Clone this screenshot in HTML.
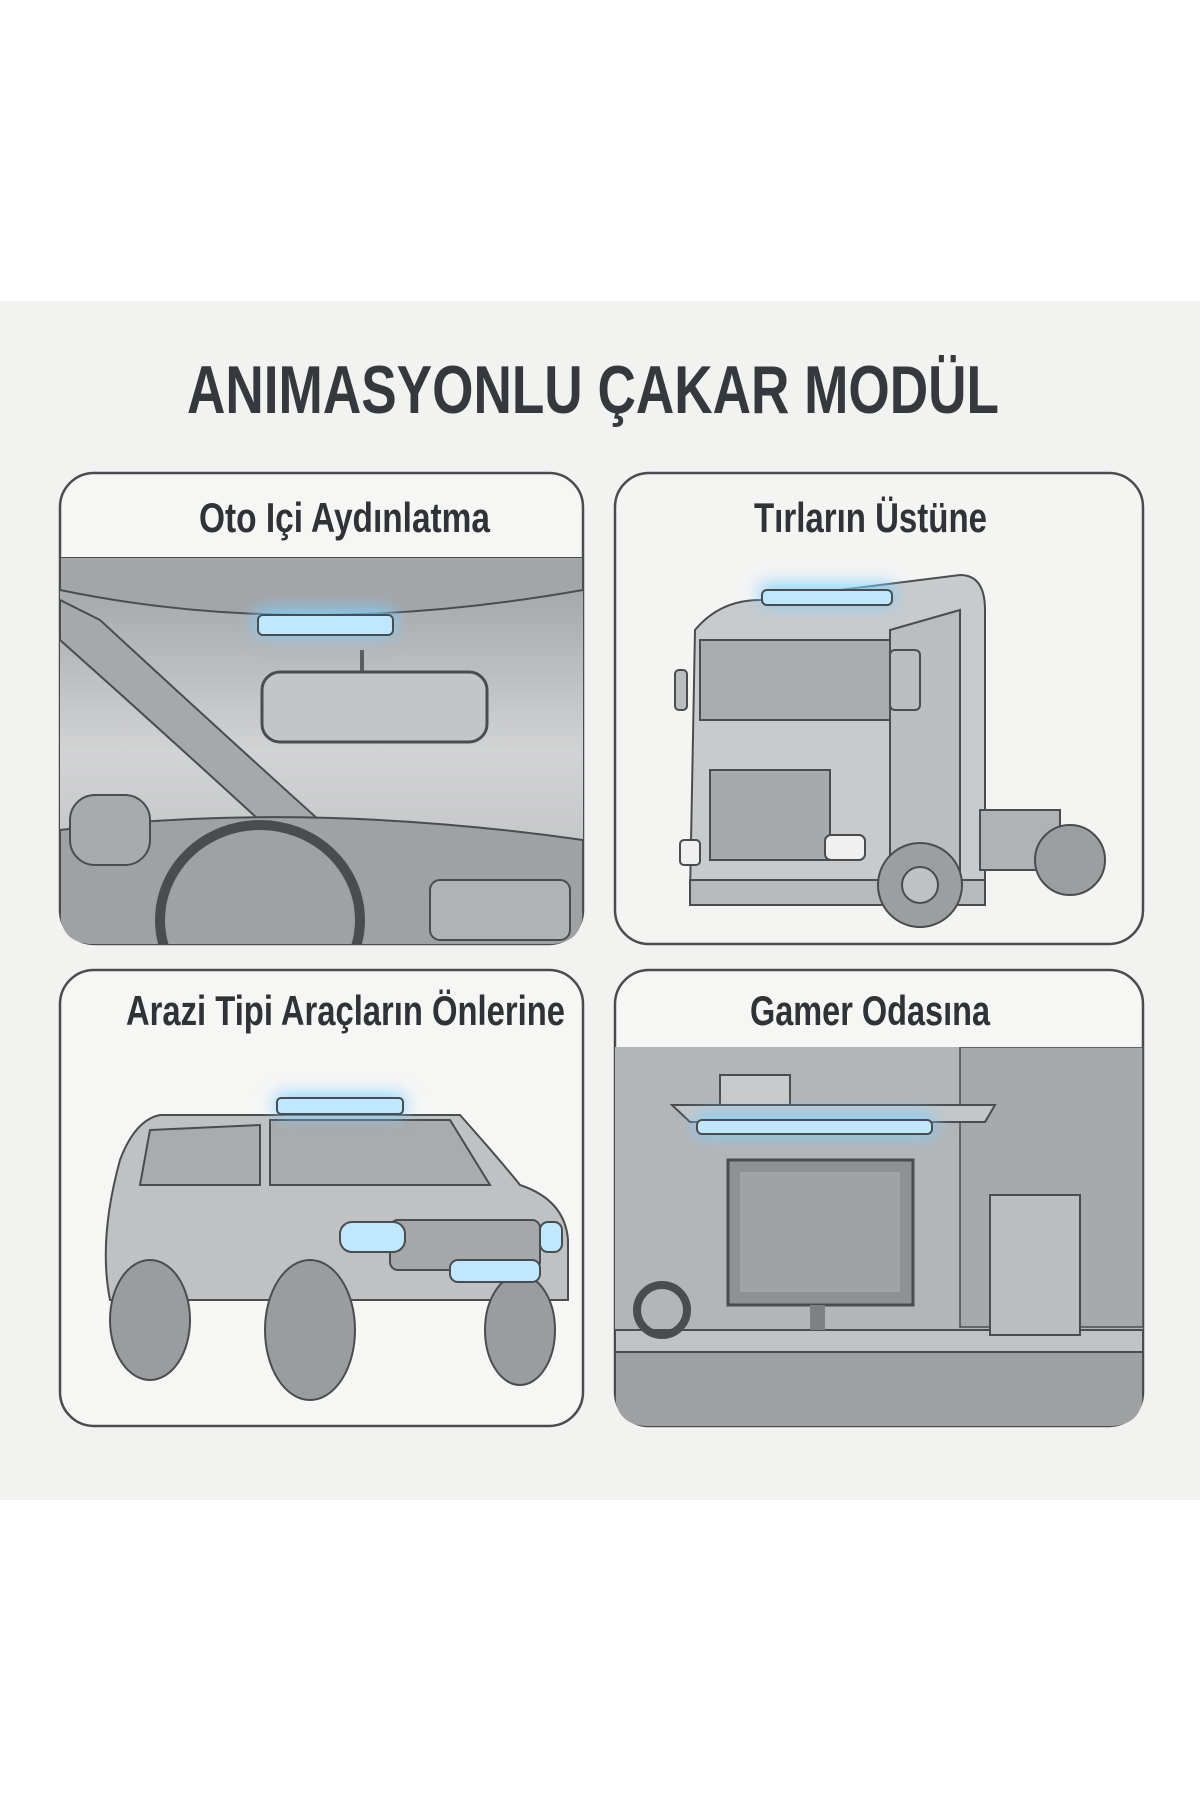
<!DOCTYPE html>
<html><head><meta charset="utf-8"><style>
html,body{margin:0;padding:0;background:#fff;}
body{width:1200px;height:1800px;position:relative;overflow:hidden;font-family:"Liberation Sans",sans-serif;}
svg{position:absolute;left:0;top:0}
</style></head><body>
<svg width="1200" height="1800" viewBox="0 0 1200 1800">
<defs>
<filter id="g" x="-50%" y="-200%" width="200%" height="500%"><feGaussianBlur stdDeviation="9"/></filter>
<linearGradient id="ws" x1="0" y1="0" x2="0" y2="1"><stop offset="0" stop-color="#9d9fa1"/><stop offset="0.5" stop-color="#d2d3d4"/><stop offset="1" stop-color="#b9babb"/></linearGradient>
<clipPath id="c1"><path d="M60,557 H583 V910 Q583,944 549,944 H94 Q60,944 60,910 Z"/></clipPath>
<clipPath id="c4"><path d="M615,1047 H1143 V1392 Q1143,1426 1109,1426 H649 Q615,1426 615,1392 Z"/></clipPath>
</defs>
<rect x="0" y="301" width="1200" height="1199" fill="#f2f2f0"/>
<text x="187" y="413" textLength="812" lengthAdjust="spacingAndGlyphs" font-size="68" font-weight="bold" fill="#35383c">ANIMASYONLU ÇAKAR MODÜL</text>

<!-- panels -->
<rect x="60" y="473" width="523" height="471" rx="34" fill="#f6f6f5" stroke="#4a4d50" stroke-width="2.5"/>
<rect x="615" y="473" width="528" height="471" rx="34" fill="#f4f4f3" stroke="#4a4d50" stroke-width="2.5"/>
<rect x="60" y="970" width="523" height="456" rx="34" fill="#f6f6f5" stroke="#4a4d50" stroke-width="2.5"/>
<rect x="615" y="970" width="528" height="456" rx="34" fill="#f6f6f5" stroke="#4a4d50" stroke-width="2.5"/>

<g font-size="42" font-weight="bold" fill="#2f3236" lengthAdjust="spacingAndGlyphs">
<text x="199" y="532" textLength="291" lengthAdjust="spacingAndGlyphs">Oto Içi Aydınlatma</text>
<text x="754" y="532" textLength="233" lengthAdjust="spacingAndGlyphs">Tırların Üstüne</text>
<text x="126" y="1025" textLength="439" lengthAdjust="spacingAndGlyphs">Arazi Tipi Araçların Önlerine</text>
<text x="750" y="1025" textLength="240" lengthAdjust="spacingAndGlyphs">Gamer Odasına</text>
</g>

<!-- TL interior -->
<g clip-path="url(#c1)">
<rect x="60" y="557" width="523" height="390" fill="url(#ws)"/>
<path d="M60,590 Q300,640 583,590 V557 H60Z" fill="#a3a5a7" stroke="#4a4d50" stroke-width="2"/>
<path d="M60,640 Q150,720 270,830 L330,830 Q230,740 100,620 L60,600Z" fill="#a6a8aa" stroke="#4a4d50" stroke-width="2"/>
<path d="M60,830 Q300,800 583,840 V950 H60Z" fill="#9fa1a3" stroke="#4a4d50" stroke-width="2"/>
<rect x="70" y="795" width="80" height="70" rx="25" fill="#a8aaac" stroke="#4a4d50" stroke-width="2"/>
<ellipse cx="260" cy="920" rx="100" ry="95" fill="none" stroke="#4a4d50" stroke-width="10"/>
<rect x="430" y="880" width="140" height="60" rx="10" fill="#b0b2b4" stroke="#4a4d50" stroke-width="2"/>
<rect x="360" y="650" width="4" height="25" fill="#5a5d60"/>
<rect x="262" y="672" width="225" height="70" rx="18" fill="#c3c5c7" stroke="#4a4d50" stroke-width="3"/>
<rect x="255" y="610" width="140" height="25" rx="6" fill="#7fd0ff" filter="url(#g)"/>
<rect x="258" y="615" width="135" height="20" rx="5" fill="#bfe8ff" stroke="#4a4d50" stroke-width="2"/>
</g>

<!-- TR truck -->
<g stroke="#4a4d50" stroke-width="2">
<path d="M695,630 Q720,600 760,600 L960,575 Q985,575 985,610 V895 H690Z" fill="#c9cacb"/>
<path d="M700,640 H890 V720 H700Z" fill="#a9abad"/>
<path d="M890,630 L960,610 V880 L890,880Z" fill="#bcbdbe"/>
<rect x="710" y="770" width="120" height="90" fill="#a7a9ab"/>
<rect x="825" y="835" width="40" height="25" rx="6" fill="#f0f0f0"/>
<rect x="680" y="840" width="20" height="25" rx="4" fill="#f0f0f0"/>
<path d="M690,880 H985 V905 H690Z" fill="#b8b9ba"/>
<circle cx="920" cy="885" r="42" fill="#9c9ea0"/><circle cx="920" cy="885" r="18" fill="#c0c1c2"/>
<rect x="980" y="810" width="80" height="60" fill="#b0b2b4"/>
<circle cx="1070" cy="860" r="35" fill="#9c9ea0"/>
<rect x="890" y="650" width="30" height="60" rx="5" fill="#bcbdbe"/>
<rect x="675" y="670" width="12" height="40" rx="4" fill="#bcbdbe"/>
</g>
<rect x="760" y="585" width="135" height="20" rx="6" fill="#7fd0ff" filter="url(#g)"/>
<rect x="762" y="590" width="130" height="15" rx="5" fill="#bfe8ff" stroke="#4a4d50" stroke-width="2"/>

<!-- BL SUV -->
<g stroke="#4a4d50" stroke-width="2">
<path d="M120,1160 Q135,1120 160,1115 L460,1115 Q500,1160 520,1185 Q565,1200 568,1240 V1300 H110 Q98,1240 120,1160Z" fill="#c0c1c2"/>
<path d="M150,1130 L260,1125 V1185 H140Z" fill="#a9abad"/>
<path d="M270,1120 H450 L490,1185 H270Z" fill="#a9abad"/>
<rect x="390" y="1220" width="150" height="50" rx="8" fill="#a5a7a9"/>
<ellipse cx="150" cy="1320" rx="40" ry="60" fill="#9a9c9e"/>
<ellipse cx="310" cy="1330" rx="45" ry="70" fill="#9a9c9e"/>
<ellipse cx="520" cy="1330" rx="35" ry="55" fill="#9a9c9e"/>
</g>
<g>
<rect x="275" y="1095" width="130" height="20" rx="6" fill="#7fd0ff" filter="url(#g)"/>
<rect x="277" y="1098" width="126" height="16" rx="4" fill="#bfe8ff" stroke="#4a4d50" stroke-width="2"/>
<rect x="340" y="1222" width="65" height="30" rx="12" fill="#bfe8ff" stroke="#4a4d50" stroke-width="2"/>
<rect x="450" y="1260" width="90" height="22" rx="8" fill="#bfe8ff" stroke="#4a4d50" stroke-width="2"/>
<rect x="540" y="1222" width="22" height="30" rx="8" fill="#bfe8ff" stroke="#4a4d50" stroke-width="2"/>
</g>

<!-- BR gamer room -->
<g clip-path="url(#c4)">
<rect x="615" y="1047" width="528" height="380" fill="#b3b5b7"/>
<rect x="960" y="1047" width="183" height="280" fill="#a7a9ab" stroke="#4a4d50" stroke-width="1.5"/>
<rect x="615" y="1330" width="528" height="100" fill="#9ea0a2" stroke="#4a4d50" stroke-width="2"/>
<rect x="615" y="1330" width="528" height="22" fill="#c1c2c3" stroke="#4a4d50" stroke-width="2"/>
<path d="M672,1105 H995 L985,1122 H690Z" fill="#c5c6c7" stroke="#4a4d50" stroke-width="2"/>
<rect x="720" y="1075" width="70" height="30" fill="#c9cacb" stroke="#4a4d50" stroke-width="2"/>
<rect x="695" y="1115" width="240" height="20" rx="6" fill="#7fd0ff" filter="url(#g)"/>
<rect x="697" y="1120" width="235" height="14" rx="5" fill="#bfe8ff" stroke="#4a4d50" stroke-width="2"/>
<rect x="728" y="1160" width="185" height="145" fill="#8f9193" stroke="#4a4d50" stroke-width="3"/>
<rect x="740" y="1172" width="160" height="120" fill="#a0a2a4"/>
<rect x="810" y="1305" width="15" height="25" fill="#7e8082"/>
<rect x="990" y="1195" width="90" height="140" fill="#bdbebf" stroke="#4a4d50" stroke-width="2"/>
<circle cx="662" cy="1310" r="25" fill="none" stroke="#4a4d50" stroke-width="8"/>
</g>
</svg>
</body></html>
